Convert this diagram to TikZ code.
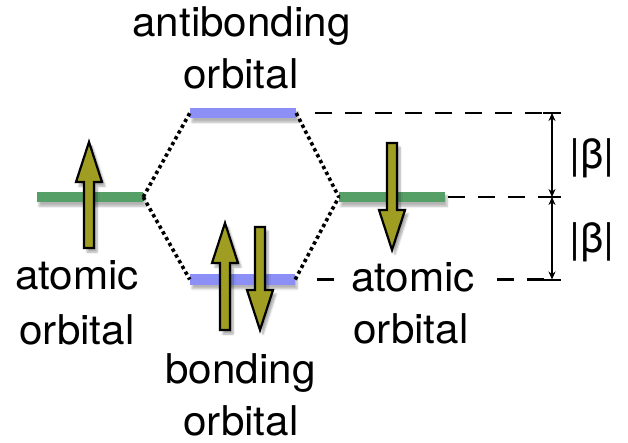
\documentclass[tikz,border=0pt]{standalone}
\usepackage{fontspec}
\setmainfont[FakeStretch=1.03]{TeX Gyre Heros}
\usetikzlibrary{calc,arrows.meta,shadows.blur}
\definecolor{spinolive}{RGB}{160,158,34}
\definecolor{orbgreen}{RGB}{86,160,104}
\definecolor{orbblue}{RGB}{140,144,246}
\newcommand\elspin[3]{%
  \pgfmathsetmacro\hbase{#3 + 40*sign(#2-#3)}%
  \filldraw[spin] (#1-5,#2) -- (#1-5,\hbase) -- (#1-13,\hbase) -- (#1,#3) -- (#1+13,\hbase) -- (#1+5,\hbase) -- (#1+5,#2) -- cycle;}
\tikzset{
  level/.style={rectangle, minimum width=106pt, minimum height=10.5pt, inner sep=0pt, draw=none,
    blur shadow={shadow xshift=2pt, shadow yshift=-4pt, shadow opacity=30, shadow blur steps=6}},
  spin/.style={fill=spinolive, draw=black, line width=2.2pt, line join=miter,
    blur shadow={shadow xshift=3pt, shadow yshift=-4pt, shadow opacity=35, shadow blur steps=6}},
  dotline/.style={line width=3.6pt, dash pattern=on 3.4pt off 3.2pt},
  dashline/.style={line width=2.2pt, dash pattern=on 17pt off 13pt},
  tick/.style={line width=2pt},
  gap/.style={line width=1.8pt, {Stealth[length=8pt,width=7pt]}-{Stealth[length=8pt,width=7pt]}},
  lab/.style={font=\fontsize{41}{49}\selectfont, inner sep=0pt, anchor=base}
}
\begin{document}
\begin{tikzpicture}[x=1pt,y=-1pt]
\useasboundingbox (0,0) rectangle (628,443);
% tick coordinates
\coordinate (tA) at (552,113);
\coordinate (tB) at (552,197);
\coordinate (tC) at (552,279.5);
% levels
\node[level, fill=orbblue] (anti) at (243,113) {};
\node[level, fill=orbgreen] (atomL) at (90,197) {};
\node[level, fill=orbgreen] (atomR) at (392,197) {};
\node[level, fill=orbblue, minimum width=105pt] (bond) at (242.5,279.5) {};
% dotted correlation lines
\draw[dotline] (atomL.east) -- (anti.west);
\draw[dotline] (atomL.east) -- (bond.west);
\draw[dotline] (anti.east) -- (atomR.west);
\draw[dotline] (bond.east) -- (atomR.west);
% dashed reference lines
\draw[dashline, shorten <=19pt] (anti.east) -- (tA);
\draw[dashline, shorten <=3pt] (atomR.east) -- (tB);
\draw[dashline, shorten <=22pt] (bond.east) -- (tC);
% ticks and gap arrows
\draw[tick] ([xshift=-9pt]tA) -- ([xshift=9pt]tA);
\draw[tick] ([xshift=-9pt]tB) -- ([xshift=9pt]tB);
\draw[tick] ([xshift=-9pt]tC) -- ([xshift=9pt]tC);
\draw[gap] (tA) -- (tB);
\draw[gap] (tB) -- (tC);
\node[font=\fontsize{41}{49}\selectfont, inner sep=0pt] (beta1) at (592,158) {|β|};
\node[font=\fontsize{41}{49}\selectfont, inner sep=0pt] (beta2) at (592,242) {|β|};
% electron spins
\elspin{89}{248}{142}
\elspin{392}{143}{250}
\elspin{225}{330}{223}
\elspin{260}{227}{330}
% labels
\node[lab] (antiT1) at (241.5,37) {antibonding};
\node[lab] (antiT2) at (241,89) {orbital};
\node[lab] (atLT1) at (77,289) {atomic};
\node[lab] (atLT2) at (77,344) {orbital};
\node[lab, fill=white, inner xsep=9pt] (atRT1) at (413,291) {atomic};
\node[lab] (atRT2) at (411,343) {orbital};
\node[lab] (bondT1) at (240.5,383) {bonding};
\node[lab] (bondT2) at (241,435) {orbital};
\end{tikzpicture}
\end{document}
